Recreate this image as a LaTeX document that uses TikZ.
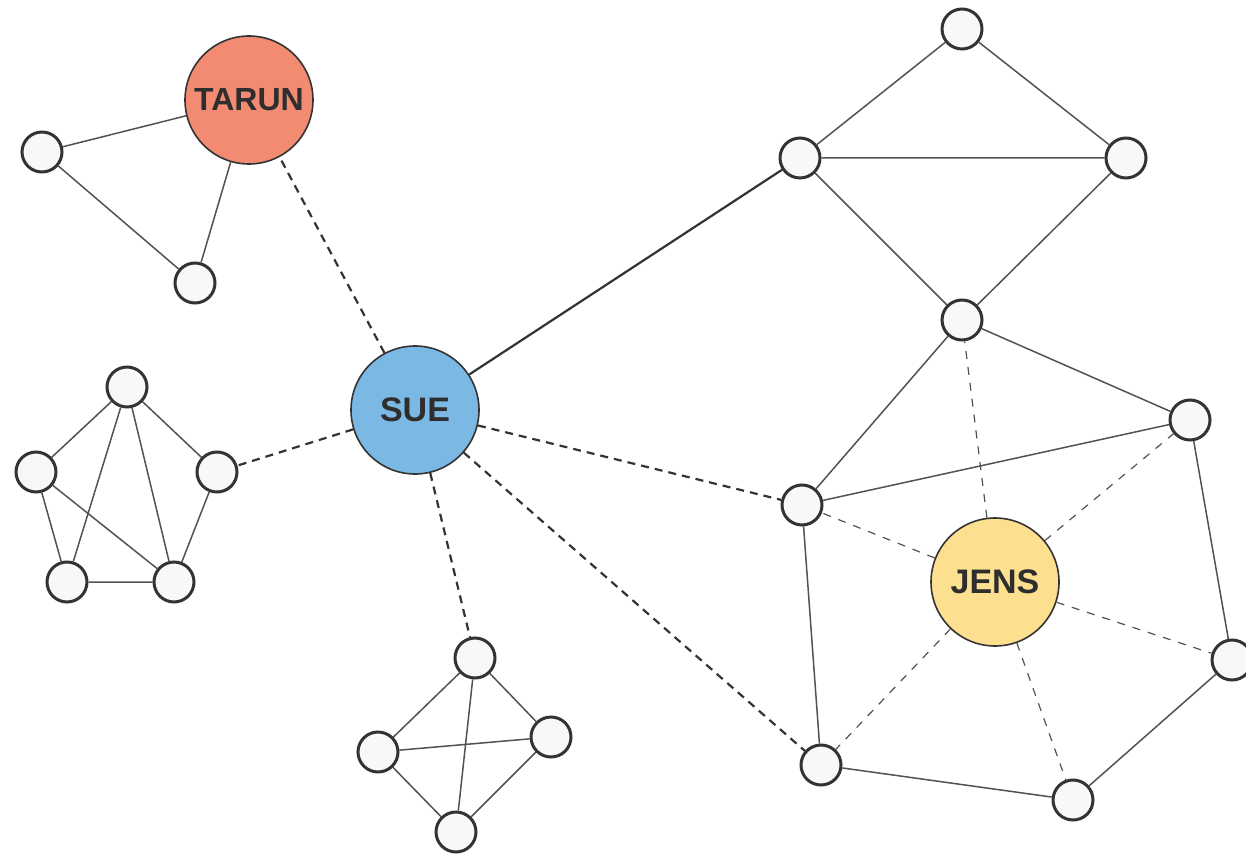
\documentclass[tikz,border=0pt]{standalone}
\usepackage{fontspec}
\setmainfont{Liberation Sans}
\definecolor{ringgray}{HTML}{333333}
\definecolor{smallfill}{HTML}{F8F8F8}
\definecolor{tarunfill}{HTML}{F28B72}
\definecolor{suefill}{HTML}{7BB8E4}
\definecolor{jensfill}{HTML}{FDE08F}
\definecolor{labelgray}{HTML}{2E2E2E}
\begin{document}
\begin{tikzpicture}[x=0.5pt,y=-0.5pt,
  dot/.style={circle,draw=ringgray,line width=1.5pt,fill=smallfill,minimum size=20pt,inner sep=0pt},
  hub/.style={circle,draw=ringgray,line width=0.8pt,minimum size=64pt,inner sep=0pt,
    font=\bfseries\fontsize{17}{17}\selectfont,text=labelgray},
  link/.style={draw=ringgray!85,line width=0.75pt},
  strong/.style={draw=ringgray,line width=1.1pt},
  tie/.style={draw=ringgray,line width=1.1pt,dash pattern=on 4pt off 3pt},
  weak/.style={draw=ringgray!85,line width=0.6pt,dash pattern=on 4pt off 4pt}]
\useasboundingbox (0,0) rectangle (1246,855);

% hubs
\node[hub,fill=tarunfill,font=\bfseries\fontsize{16}{16}\selectfont] (tarun) at (249,100) {TARUN};
\node[hub,fill=suefill] (sue) at (415,410) {SUE};
\node[hub,fill=jensfill] (jens) at (995,582) {JENS};

% triangle around Tarun
\node[dot] (a1) at (42,152) {};
\node[dot] (a2) at (195,283) {};

% pentagon cluster
\node[dot] (p1) at (127,387) {};
\node[dot] (p2) at (36,472) {};
\node[dot] (p3) at (217,472) {};
\node[dot] (p4) at (67,582) {};
\node[dot] (p5) at (174,582) {};

% lower cluster
\node[dot] (q1) at (475,658) {};
\node[dot] (q2) at (378,752) {};
\node[dot] (q3) at (551,737) {};
\node[dot] (q4) at (456,832) {};

% right cluster
\node[dot] (r1) at (962,29) {};
\node[dot] (r2) at (800,158) {};
\node[dot] (r3) at (1126,158) {};
\node[dot] (r4) at (962,320) {};
\node[dot] (r5) at (1190,420) {};
\node[dot] (r6) at (802,505) {};
\node[dot] (r7) at (1232,660) {};
\node[dot] (r8) at (821,765) {};
\node[dot] (r9) at (1073,800) {};

% edges, ending at the node borders
\path[link] (tarun) -- (a1) (a1) -- (a2) (a2) -- (tarun);
\path[link] (p1) -- (p2) (p1) -- (p3) (p1) -- (p4) (p1) -- (p5)
  (p2) -- (p4) (p2) -- (p5) (p4) -- (p5) (p3) -- (p5);
\path[link] (q1) -- (q2) (q1) -- (q3) (q1) -- (q4)
  (q2) -- (q3) (q2) -- (q4) (q3) -- (q4);
\path[link] (r1) -- (r2) (r1) -- (r3) (r2) -- (r3) (r2) -- (r4) (r3) -- (r4)
  (r4) -- (r6) (r4) -- (r5) (r6) -- (r5) (r5) -- (r7) (r6) -- (r8)
  (r8) -- (r9) (r9) -- (r7);
\path[weak] (jens) -- (r4) (jens) -- (r5) (jens) -- (r6) (jens) -- (r7)
  (jens) -- (r8) (jens) -- (r9);

\path[strong] (sue) -- (r2);
\path[tie] (sue) -- (tarun) (sue) -- (p3) (sue) -- (q1) (sue) -- (r6) (sue) -- (r8);
\end{tikzpicture}
\end{document}
